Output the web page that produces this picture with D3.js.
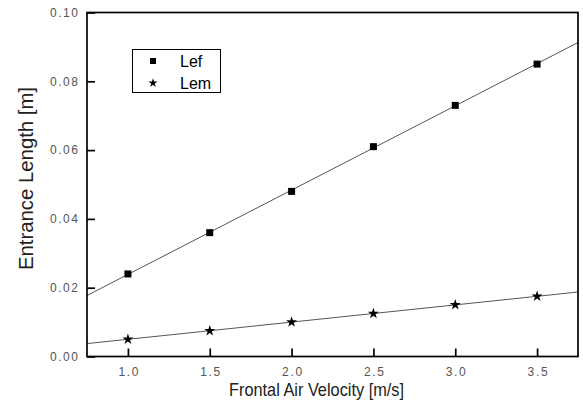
<!DOCTYPE html>
<html><head><meta charset="utf-8">
<script src="https://cdn.jsdelivr.net/npm/d3@7"></script>
<style>body{margin:0;background:#fff}svg{display:block}</style>
</head><body>
<svg id="c" width="583" height="414"></svg>
<script>
const velocity = [1.0, 1.5, 2.0, 2.5, 3.0, 3.5];
const lef = [0.024, 0.036, 0.048, 0.061, 0.073, 0.085];
const lem = [0.005, 0.0075, 0.010, 0.0125, 0.015, 0.0175];
const xTicks = [1.0, 1.5, 2.0, 2.5, 3.0, 3.5];
const yTicks = [0.00, 0.02, 0.04, 0.06, 0.08, 0.10];
const xDomain = [0.75, 3.75];
const yDomain = [0, 0.10];

const svg = d3.select("#c");
const m = {l: 87, r: 578, t: 12.5, b: 356.5};
const x = d3.scaleLinear().domain(xDomain).range([m.l, m.r]);
const y = d3.scaleLinear().domain(yDomain).range([m.b, m.t]);
const font = "Arial, 'Liberation Sans', sans-serif";

function fit(xs, ys){
  const n = xs.length, mx = d3.mean(xs), my = d3.mean(ys);
  let sxy = 0, sxx = 0;
  for (let i = 0; i < n; i++){ sxy += (xs[i]-mx)*(ys[i]-my); sxx += (xs[i]-mx)**2; }
  const b = sxy/sxx, a = my - b*mx;
  return xDomain.map(v => [v, a + b*v]);
}

// fit lines
const line = d3.line().x(d => x(d[0])).y(d => y(d[1]));
[lef, lem].forEach(s => {
  svg.append("path").attr("d", line(fit(velocity, s)))
    .attr("fill", "none").attr("stroke", "#555").attr("stroke-width", 1);
});

// frame
svg.append("rect").attr("x", m.l).attr("y", m.t).attr("width", m.r - m.l).attr("height", m.b - m.t)
  .attr("fill", "none").attr("stroke", "#000").attr("stroke-width", 1.7);

// axes
const gx = svg.append("g").attr("transform", `translate(0,${m.b})`)
  .call(d3.axisBottom(x).tickValues(xTicks).tickFormat(d3.format(".1f")).tickSizeInner(-8).tickSizeOuter(0).tickPadding(11));
const gy = svg.append("g").attr("transform", `translate(${m.l},0)`)
  .call(d3.axisLeft(y).tickValues(yTicks).tickFormat(d3.format(".2f")).tickSizeInner(-8).tickSizeOuter(0).tickPadding(9));
[gx, gy].forEach(g => {
  g.select(".domain").remove();
  g.selectAll(".tick line").attr("stroke", "#000").attr("stroke-width", 1.7);
  g.selectAll(".tick text").attr("fill", "#555").style("font-family", font).style("font-size", "12px")
    .attr("lengthAdjust", "spacing");
});
gx.selectAll(".tick text").attr("textLength", 20);
gy.selectAll(".tick text").attr("textLength", 28);

// markers
const sq = d3.symbol().type(d3.symbolSquare).size(49);
const star = d3.symbol().type(d3.symbolStar).size(38);
svg.append("g").selectAll("path").data(velocity.map((v,i) => [v, lef[i]])).join("path")
  .attr("d", sq).attr("transform", d => `translate(${x(d[0])},${y(d[1])})`).attr("fill", "#000");
svg.append("g").selectAll("path").data(velocity.map((v,i) => [v, lem[i]])).join("path")
  .attr("d", star).attr("transform", d => `translate(${x(d[0])},${y(d[1])})`).attr("fill", "#000");

// legend
const lg = svg.append("g");
lg.append("rect").attr("x", 132.5).attr("y", 49.5).attr("width", 88).attr("height", 43)
  .attr("fill", "#fff").attr("stroke", "#000").attr("stroke-width", 1);
const names = ["Lef", "Lem"];
const syms = [d3.symbol().type(d3.symbolSquare).size(36), d3.symbol().type(d3.symbolStar).size(26)];
names.forEach((n, i) => {
  const cy = 61 + i * 22;
  lg.append("path").attr("d", syms[i]).attr("transform", `translate(153,${cy})`).attr("fill", "#000");
  lg.append("text").attr("x", 180).attr("y", cy + 6).text(n)
    .style("font-family", font).style("font-size", "16px").attr("fill", "#000");
});

// titles
svg.append("text").attr("x", 316.5).attr("y", 396).attr("text-anchor", "middle")
  .attr("textLength", 175).attr("lengthAdjust", "spacingAndGlyphs")
  .text("Frontal Air Velocity [m/s]").style("font-family", font).style("font-size", "19px").attr("fill", "#222");
svg.append("text").attr("transform", `translate(33,178.5) rotate(-90)`).attr("text-anchor", "middle")
  .attr("textLength", 183).attr("lengthAdjust", "spacingAndGlyphs")
  .text("Entrance Length [m]").style("font-family", font).style("font-size", "20px").attr("fill", "#222");
</script>
</body></html>
